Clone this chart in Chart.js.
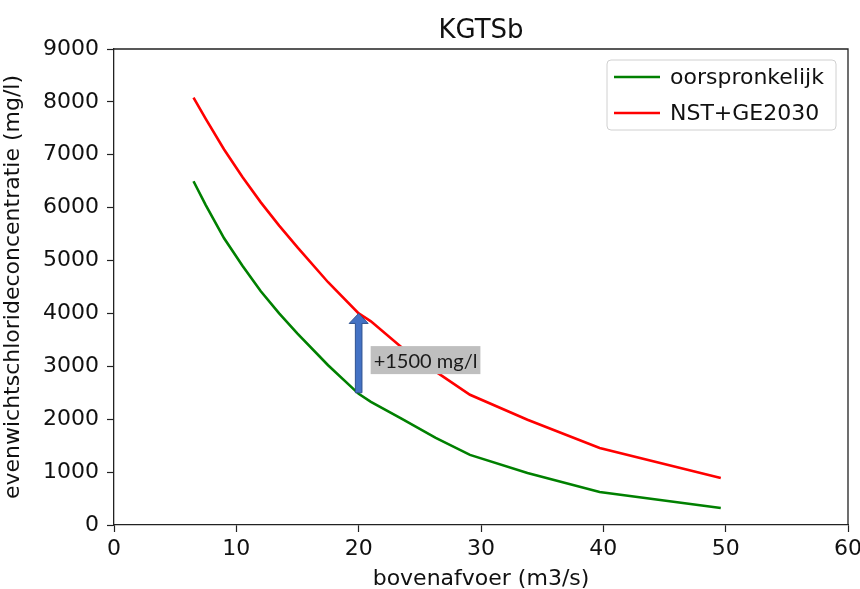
<!DOCTYPE html>
<html>
<head>
<meta charset="utf-8">
<script src="https://cdn.jsdelivr.net/npm/chart.js@4.4.1/dist/chart.umd.min.js"></script>
<style>
  html, body { margin: 0; padding: 0; background: #fff; }
  #wrap { width: 860px; height: 589px; }
</style>
</head>
<body>
<div id="wrap"><canvas id="chart" width="860" height="589"></canvas></div>
<script>
// bovenafvoer (m3/s)
const flow = [6.5, 7.5, 9, 10.5, 12, 13.5, 15, 17.5, 20, 21, 23.5, 26.3, 29.1, 33.8, 39.7, 49.6];
// evenwichtschlorideconcentratie (mg/l)
const original = [6500, 6050, 5420, 4900, 4420, 4000, 3620, 3020, 2480, 2330, 2010, 1648, 1326, 985, 625, 322];
const nstGe2030 = [8080, 7680, 7100, 6580, 6100, 5660, 5250, 4590, 4000, 3850, 3360, 2900, 2462, 1989, 1458, 890];
const seriesNames = ['oorspronkelijk', 'NST+GE2030'];
const xTicks = [0, 10, 20, 30, 40, 50, 60];
const yTicks = [0, 1000, 2000, 3000, 4000, 5000, 6000, 7000, 8000, 9000];

// arrow annotation: increase at 20 m3/s
const arrowFlow = 20;
const arrowFrom = 2500;
const arrowTo = 4000;
const arrowText = '+1500 mg/l';

const FONT = "'DejaVu Sans', sans-serif";

const toPoints = (vals) => vals.map((v, i) => ({ x: flow[i], y: v }));

// frame, title, legend and the arrow with its label
const extras = {
  id: 'extras',
  afterDraw(chart) {
    const { ctx, chartArea: a, scales } = chart;
    ctx.save();

    // top and right spines
    ctx.strokeStyle = '#222';
    ctx.lineWidth = 1.3;
    ctx.beginPath();
    ctx.moveTo(a.left, a.top);
    ctx.lineTo(a.right, a.top);
    ctx.lineTo(a.right, a.bottom);
    ctx.stroke();

    // title
    ctx.fillStyle = '#111';
    ctx.font = `26px ${FONT}`;
    ctx.textAlign = 'center';
    ctx.textBaseline = 'alphabetic';
    ctx.fillText('KGTSb', (a.left + a.right) / 2, 38);

    // arrow
    const ax = scales.x.getPixelForValue(arrowFlow);
    const y0 = scales.y.getPixelForValue(arrowFrom);
    const y1 = scales.y.getPixelForValue(arrowTo);
    const shaft = 3.3, head = 9.5, headH = 10;
    ctx.beginPath();
    ctx.moveTo(ax - shaft, y0);
    ctx.lineTo(ax - shaft, y1 + headH);
    ctx.lineTo(ax - head, y1 + headH);
    ctx.lineTo(ax, y1);
    ctx.lineTo(ax + head, y1 + headH);
    ctx.lineTo(ax + shaft, y1 + headH);
    ctx.lineTo(ax + shaft, y0);
    ctx.closePath();
    ctx.fillStyle = '#4472C4';
    ctx.fill();
    ctx.strokeStyle = '#2F528F';
    ctx.lineWidth = 1;
    ctx.stroke();

    // label box next to the arrow
    ctx.font = "20px Lato, 'Open Sans', sans-serif";
    const tw = ctx.measureText(arrowText).width;
    const bx = ax + 12, bh = 28;
    const by = (y0 + y1) / 2 + 7 - bh / 2;
    ctx.fillStyle = '#BFBFBF';
    ctx.fillRect(bx, by, tw + 6, bh);
    ctx.fillStyle = '#1a1a1a';
    ctx.textAlign = 'left';
    ctx.textBaseline = 'middle';
    ctx.fillText(arrowText, bx + 3, by + bh / 2 + 1);

    // legend, upper right
    const lx = a.right - 241, ly = a.top + 11, lw = 229, lh = 70;
    ctx.beginPath();
    ctx.roundRect(lx, ly, lw, lh, 4);
    ctx.fillStyle = 'rgba(255,255,255,0.8)';
    ctx.fill();
    ctx.strokeStyle = '#d0d0d0';
    ctx.lineWidth = 1;
    ctx.stroke();
    ctx.font = `22px ${FONT}`;
    ctx.textBaseline = 'middle';
    chart.data.datasets.forEach((ds, i) => {
      const yy = ly + 17 + i * 36;
      ctx.strokeStyle = ds.borderColor;
      ctx.lineWidth = 2.6;
      ctx.beginPath();
      ctx.moveTo(lx + 7, yy);
      ctx.lineTo(lx + 53, yy);
      ctx.stroke();
      ctx.fillStyle = '#111';
      ctx.fillText(ds.label, lx + 63, yy + 1);
    });

    ctx.restore();
  },
};

const ctx = document.getElementById('chart').getContext('2d');
new Chart(ctx, {
  type: 'line',
  data: {
    datasets: [
      { label: seriesNames[0], data: toPoints(original), borderColor: '#008000' },
      { label: seriesNames[1], data: toPoints(nstGe2030), borderColor: '#ff0000' },
    ],
  },
  options: {
    responsive: false,
    animation: false,
    layout: { padding: { top: 49, right: 12, left: 0, bottom: 0 } },
    elements: {
      point: { radius: 0 },
      line: { borderWidth: 2.6, tension: 0, borderCapStyle: 'butt' },
    },
    plugins: {
      legend: { display: false },
      tooltip: { enabled: false },
    },
    scales: {
      x: {
        type: 'linear',
        min: 0,
        max: 60,
        afterFit: (s) => { s.height = 64; s.paddingLeft = 0; s.paddingRight = 0; },
        afterBuildTicks: (s) => { s.ticks = xTicks.map((v) => ({ value: v })); },
        grid: { drawOnChartArea: false, drawTicks: true, tickLength: 7, tickColor: '#222', tickWidth: 1.2 },
        border: { color: '#222', width: 1.3 },
        ticks: {
          color: '#111',
          font: { family: FONT, size: 22 },
          padding: 4,
          maxRotation: 0,
          callback: (v) => String(v),
        },
        title: {
          display: true,
          text: 'bovenafvoer (m3/s)',
          color: '#111',
          font: { family: FONT, size: 22 },
          padding: { top: 0, bottom: -3 },
        },
      },
      y: {
        type: 'linear',
        min: 0,
        max: 9000,
        afterFit: (s) => { s.width = 114; s.paddingTop = 0; s.paddingBottom = 0; },
        afterBuildTicks: (s) => { s.ticks = yTicks.map((v) => ({ value: v })); },
        grid: { drawOnChartArea: false, drawTicks: true, tickLength: 7, tickColor: '#222', tickWidth: 1.2 },
        border: { color: '#222', width: 1.3 },
        ticks: {
          color: '#111',
          font: { family: FONT, size: 22 },
          padding: 8,
          callback: (v) => String(v),
        },
        title: {
          display: true,
          text: 'evenwichtschlorideconcentratie (mg/l)',
          color: '#111',
          font: { family: FONT, size: 22 },
          padding: { top: 0, bottom: 0 },
        },
      },
    },
  },
  plugins: [extras],
});
</script>
</body>
</html>
